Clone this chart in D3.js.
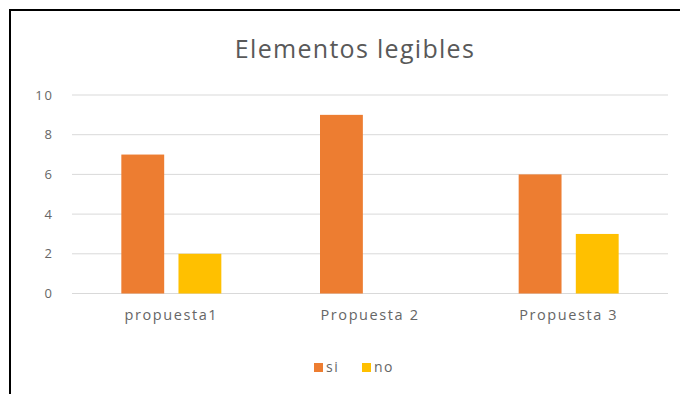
<!DOCTYPE html>
<html>
<head>
<meta charset="utf-8">
<script src="https://cdn.jsdelivr.net/npm/d3@7"></script>
<style>
  body { margin: 0; background: #fff; }
  svg { display: block; }
</style>
</head>
<body>
<div id="container"></div>
<script>
// data
let categories = ["propuesta1", "Propuesta 2", "Propuesta 3"];
let seriesNames = ["si", "no"];
let siValues = [7, 9, 6];
let noValues = [2, 0, 3];
let yTicks = [0, 2, 4, 6, 8, 10];
let colors = ["#ED7D31", "#FFC000"];

let w = 680;
let h = 394;
let font = "'Open Sans', 'Liberation Sans', sans-serif";

let viz = d3.select("#container")
  .append("svg")
    .attr("width", w)
    .attr("height", h)
;

// outer frame, cut off on right and bottom like the screenshot
viz.append("rect")
  .attr("x", 10)
  .attr("y", 10)
  .attr("width", w + 20)
  .attr("height", h + 20)
  .attr("fill", "#fff")
  .attr("stroke", "#000")
  .attr("stroke-width", 2)
;

viz.append("text")
  .attr("x", 355)
  .attr("y", 58)
  .attr("text-anchor", "middle")
  .attr("font-family", font)
  .attr("font-size", 25)
  .attr("letter-spacing", 1.3)
  .attr("fill", "#595959")
  .text("Elementos legibles")
;

let xScale = d3.scaleBand().domain(categories).range([72, 668]);
let inner = d3.scaleBand().domain(seriesNames).range([-50, 50]).paddingInner(0.25);
let yScale = d3.scaleLinear().domain([0, 10]).range([293.5, 95]);

// gridlines
viz.append("g")
  .selectAll("line")
  .data(yTicks)
  .enter()
  .append("line")
    .attr("x1", 72)
    .attr("x2", 668)
    .attr("y1", function(d){ return yScale(d); })
    .attr("y2", function(d){ return yScale(d); })
    .attr("stroke", "#d9d9d9")
    .attr("stroke-width", 1)
;

let yAxis = d3.axisLeft(yScale).tickValues(yTicks).tickSize(0).tickPadding(0);
let yAxisGroup = viz.append("g")
  .attr("transform", "translate(54,0)")
  .call(yAxis)
;
yAxisGroup.select(".domain").remove();
yAxisGroup.selectAll("text")
  .attr("font-family", font)
  .attr("font-size", 13)
  .attr("letter-spacing", 2)
  .attr("fill", "#666")
;

let rows = categories.map(function(c, i){
  return { cat: c, values: [siValues[i], noValues[i]] };
});

let groups = viz.append("g").selectAll(".grp")
  .data(rows)
  .enter()
  .append("g")
    .attr("class", "grp")
    .attr("transform", function(d){ return "translate(" + (xScale(d.cat) + xScale.bandwidth() / 2) + ",0)"; })
;

groups.selectAll("rect")
  .data(function(d){ return d.values.map(function(v, i){ return { name: seriesNames[i], v: v, i: i }; }); })
  .enter()
  .append("rect")
    .attr("x", function(d){ return inner(d.name); })
    .attr("width", inner.bandwidth())
    .attr("y", function(d){ return yScale(d.v); })
    .attr("height", function(d){ return yScale(0) - yScale(d.v); })
    .attr("fill", function(d){ return colors[d.i]; })
;

let xAxis = d3.axisBottom(xScale).tickSize(0).tickPadding(0);
let xAxisGroup = viz.append("g")
  .attr("transform", "translate(0,310)")
  .call(xAxis)
;
xAxisGroup.select(".domain").remove();
xAxisGroup.selectAll("text")
  .attr("font-family", font)
  .attr("font-size", 14.5)
  .attr("letter-spacing", 1.6)
  .attr("fill", "#666")
;

// legend
let legendX = [314, 362];
let legend = viz.append("g").selectAll(".leg")
  .data(seriesNames)
  .enter()
  .append("g")
    .attr("class", "leg")
    .attr("transform", function(d, i){ return "translate(" + legendX[i] + ",363)"; })
;
legend.append("rect")
  .attr("width", 9)
  .attr("height", 9)
  .attr("fill", function(d, i){ return colors[i]; })
;
legend.append("text")
  .attr("x", 12)
  .attr("y", 9)
  .attr("font-family", font)
  .attr("font-size", 14)
  .attr("letter-spacing", 1.5)
  .attr("fill", "#666")
  .text(function(d){ return d; })
;
</script>
</body>
</html>
